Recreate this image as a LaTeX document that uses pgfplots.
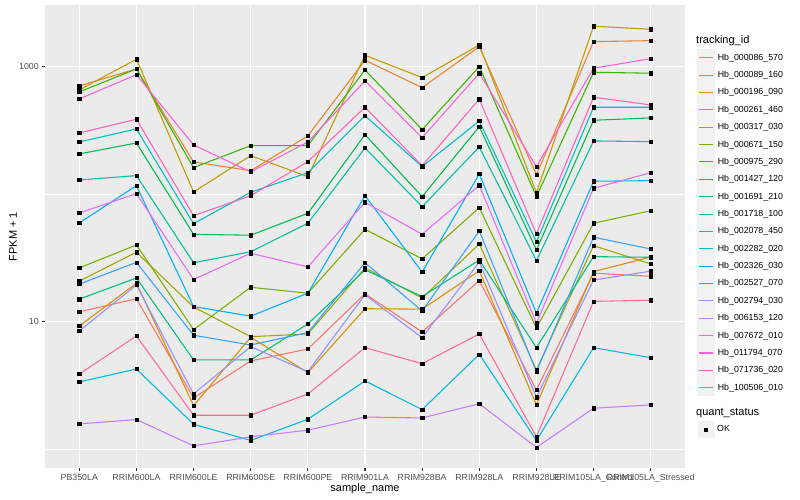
\documentclass[border=0pt]{standalone}
\usepackage{pgfplots}
\pgfplotsset{compat=1.18}
\usepackage{pgfplotstable}
\usepackage{fontspec}
\setmainfont{Liberation Sans}

% ggplot hue palette, 20 levels
\definecolor{c1}{HTML}{F8766D}
\definecolor{c2}{HTML}{EA8331}
\definecolor{c3}{HTML}{D89000}
\definecolor{c4}{HTML}{C09B00}
\definecolor{c5}{HTML}{A3A500}
\definecolor{c6}{HTML}{7CAE00}
\definecolor{c7}{HTML}{39B600}
\definecolor{c8}{HTML}{00BB4E}
\definecolor{c9}{HTML}{00BF7D}
\definecolor{c10}{HTML}{00C1A3}
\definecolor{c11}{HTML}{00BFC4}
\definecolor{c12}{HTML}{00BAE0}
\definecolor{c13}{HTML}{00B0F6}
\definecolor{c14}{HTML}{35A2FF}
\definecolor{c15}{HTML}{9590FF}
\definecolor{c16}{HTML}{C77CFF}
\definecolor{c17}{HTML}{E76BF3}
\definecolor{c18}{HTML}{FA62DB}
\definecolor{c19}{HTML}{FF62BC}
\definecolor{c20}{HTML}{FF6C91}
\definecolor{panelbg}{HTML}{EBEBEB}
\definecolor{legkey}{HTML}{F2F2F2}
\definecolor{gray30}{HTML}{4D4D4D}
\definecolor{gray20}{HTML}{333333}

% FPKM + 1, one column per tracking_id, one row per sample
\pgfplotstableread{
x  s1    s2     s3    s4     s5    s6    s7     s8     s9    s10    s11    s12   s13    s14   s15   s16   s17    s18    s19    s20
0  12.0  706    9.30  657    20.9  26.5  633.8  207.1  15.1  129.5  257.1  3.39  59.6   19.8  8.50  1.59  71.4   558.5  302.5  3.91
1  15.2  959    20.1  1143   35.2  40.1  959    252.5  22.1  140.0  325.1  4.28  116.9  29.3  19.5  1.72  101.2  865.6  387.1  7.77
2  2.54  179.2  2.21  104.3  13.1  8.71  161.8  48.6   5.04  29.1   58.9   1.58  13.2   7.87  2.73  1.07  21.5   243.5  68.0   1.86
3  4.95  153.2  7.59  200.8  7.67  18.7  240.5  47.8   5.04  35.5   103.8  1.18  11.1   6.60  6.41  1.26  34.5   149.7  97.6   1.86
4  6.14  286.6  4.01  137.5  8.05  16.8  240.5  71.0   9.65  59.3   147.7  1.73  16.8   8.25  4.08  1.42  27.0   257.1  180.2  2.73
5  16.6  1122   12.7  1228   26.5  53.2  942.2  293.4  25.6  230.7  413.1  3.45  97.6   29.1  16.3  1.80  86.6   772.7  480.8  6.29
6  8.35  684.6  12.6  820    15.4  31.2  321.1  95.9   15.8  80.0   164.7  2.06  24.6   12.2  7.53  1.77  48.6   277.8  167.7  4.71
7  21.1  1434   25.2  1479   40.8  78.6  1000   338.8  30.6  234.9  375.5  5.58  144.3  51.6  29.5  2.29  117.7  887.8  555.4  8.05
8  2.93  142.5  2.24  103    4.21  8.97  95.9   36.6   6.29  30.2   42.3   1.18  11.7   4.08  2.57  1.04  9.77   164.7  48.9   1.26
9  24.1  1570   24.8  2073   39.6  59.3  903.9  380.3  32.5  261.8  480.8  6.29  126.5  46.1  21.3  2.11  111.5  971.6  575.8  14.5
10 22.8  1598   32.3  1963   28.5  74.4  887.8  396.4  32.1  258.5  480.8  5.25  127.9  37.3  25.0  2.24  147.7  1155   501.0  14.8
}\fpkm

\begin{document}
\begin{tikzpicture}
\useasboundingbox (0,0) rectangle (800pt,500pt);
\begin{axis}[
  at={(45pt,32pt)}, anchor=south west,
  scale only axis, width=640pt, height=463pt,
  ymode=log,
  xmin=-0.6, xmax=10.6, ymin=0.718, ymax=3040,
  axis background/.style={fill=panelbg},
  axis line style={draw=none},
  xtick={0,...,10},
  xticklabels={PB350LA,RRIM600LA,RRIM600LE,RRIM600SE,RRIM600PE,RRIM901LA,RRIM928BA,RRIM928LA,RRIM928LE,RRIM105LA\_Control,RRIM105LA\_Stressed},
  ytick={10,1000}, yticklabels={10,1000},
  minor ytick={1,100},
  grid=both,
  major grid style={white, line width=1.07pt},
  minor grid style={white, line width=0.53pt},
  tick align=outside, tick pos=left,
  major tick length=2.75pt, minor tick length=0pt,
  tick style={gray20, line width=1.07pt},
  ticklabel style={font=\fontsize{8.8}{10}\selectfont, text=gray30},
  xlabel={sample\_name}, ylabel={FPKM + 1},
  label style={font=\fontsize{11}{13}\selectfont},
  xlabel style={at={(axis description cs:0.5,-0.0438)}, anchor=center, inner sep=0pt},
  ylabel style={at={(axis description cs:-0.05,0.5)}, anchor=center, inner sep=0pt},
  legend style={draw=none, fill=none, inner sep=0pt,
    at={(1.0192,0.9053)}, anchor=north west,
    font=\fontsize{8.8}{10}\selectfont, row sep=0pt,
    nodes={inner ysep=0pt, inner xsep=3pt}},
  legend cell align=left,
  legend image code/.code={
    \fill[legkey] (0pt,-8.15pt) rectangle (16.3pt,8.15pt);
    \draw[#1, line width=1.07pt] (1.2pt,0pt) -- (15.1pt,0pt);},
]
\pgfplotsinvokeforeach{1,...,20}{
  \addplot[color=c#1, line width=1.07pt, mark=none] table[x=x, y=s#1] {\fpkm};
}
\pgfplotsinvokeforeach{1,...,20}{
  \addplot[forget plot, only marks, mark=square*, mark size=1.6pt, black] table[x=x, y=s#1] {\fpkm};
}
\legend{Hb\_000086\_570,Hb\_000089\_160,Hb\_000196\_090,Hb\_000261\_460,Hb\_000317\_030,
  Hb\_000671\_150,Hb\_000975\_290,Hb\_001427\_120,Hb\_001691\_210,Hb\_001718\_100,
  Hb\_002078\_450,Hb\_002282\_020,Hb\_002326\_030,Hb\_002527\_070,Hb\_002794\_030,
  Hb\_006153\_120,Hb\_007672\_010,Hb\_011794\_070,Hb\_071736\_020,Hb\_100506\_010}
\end{axis}

% second legend: quant_status
\begin{axis}[
  at={(45pt,32pt)}, anchor=south west,
  scale only axis, width=640pt, height=463pt,
  hide axis, xmin=0, xmax=1, ymin=0, ymax=1,
  legend style={draw=none, fill=none, inner sep=0pt,
    at={(1.0192,0.1019)}, anchor=north west,
    font=\fontsize{8.8}{10}\selectfont,
    nodes={inner ysep=0pt, inner xsep=3pt}},
  legend cell align=left,
  legend image code/.code={
    \fill[legkey] (0pt,-8.15pt) rectangle (16.3pt,8.15pt);
    \draw[#1] plot coordinates {(8.15pt,0pt)};},
]
\addlegendimage{only marks, mark=square*, mark size=1.6pt, black}
\addlegendentry{OK}
\end{axis}

\node[anchor=west, inner sep=0pt, font=\fontsize{11}{13}\selectfont] at (696pt,459.3pt) {tracking\_id};
\node[anchor=west, inner sep=0pt, font=\fontsize{11}{13}\selectfont] at (696pt,87.3pt) {quant\_status};
\end{tikzpicture}
\end{document}
